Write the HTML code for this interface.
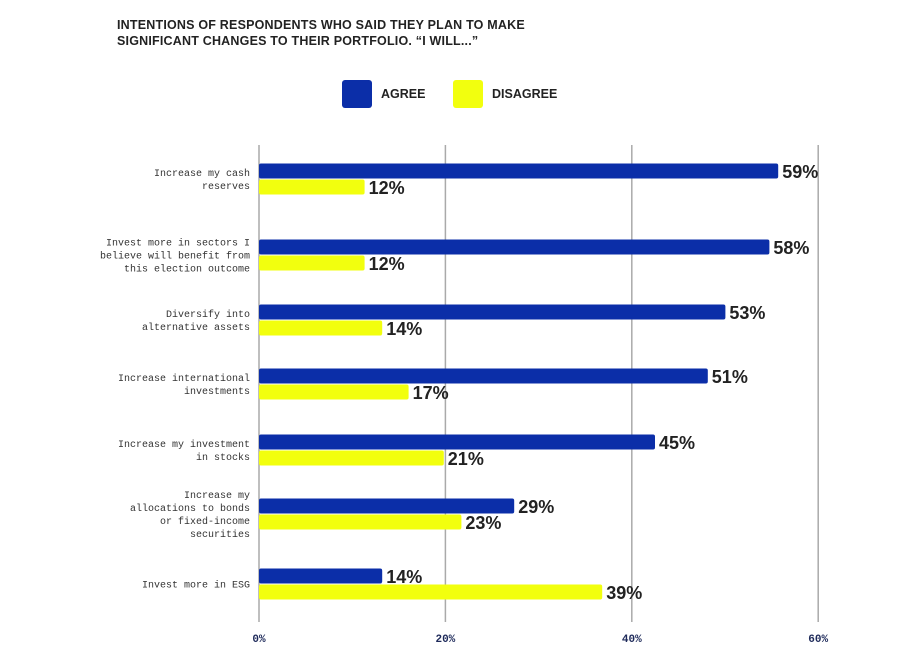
<!DOCTYPE html>
<html><head><meta charset="utf-8">
<style>
body{margin:0;background:#fff;width:909px;height:671px;overflow:hidden;font-family:"Liberation Sans",sans-serif;}
#wrap{position:relative;width:909px;height:671px;}
.title{position:absolute;left:117px;top:17px;font-weight:bold;font-size:12.5px;line-height:16px;color:#222;letter-spacing:0.2px;}
.leg{position:absolute;top:80px;width:30px;height:28px;border-radius:3px;}
.legt{position:absolute;top:87px;font-weight:bold;font-size:12.5px;color:#222;}
</style></head><body>
<div id="wrap">
<div class="title">INTENTIONS OF RESPONDENTS WHO SAID THEY PLAN TO MAKE<br>SIGNIFICANT CHANGES TO THEIR PORTFOLIO. “I WILL...”</div>
<div class="leg" style="left:342px;background:#0b2ea8"></div>
<div class="legt" style="left:381px">AGREE</div>
<div class="leg" style="left:453px;background:#f2ff0e"></div>
<div class="legt" style="left:492px">DISAGREE</div>
<svg id="svg" width="909" height="671" style="position:absolute;left:0;top:0"></svg>
</div>
<script>
const categories=[["Increase my cash","reserves"],["Invest more in sectors I","believe will benefit from","this election outcome"],["Diversify into","alternative assets"],["Increase international","investments"],["Increase my investment","in stocks"],["Increase my","allocations to bonds","or fixed-income","securities"],["Invest more in ESG"]];
const agree=[59,58,53,51,45,29,14];
const disagree=[12,12,14,17,21,23,39];
const ticks=[0,20,40,60];
const tickLabels=["0%","20%","40%","60%"];
const rowCenters=[179,255,320,384,450,514,584];
const NS="http://www.w3.org/2000/svg";
const svg=document.getElementById('svg');
const x0=259;
function xBar(v){return x0+v*8.8;}
function xGrid(v){return x0+v*9.32;}
function mk(t,a){const e=document.createElementNS(NS,t);for(const k in a)e.setAttribute(k,a[k]);svg.appendChild(e);return e;}
ticks.forEach((t,i)=>{
 const l=mk('line',{x1:xGrid(t),x2:xGrid(t),y1:145,y2:622,stroke:'#aaa','stroke-width':1.5});
 
 
 const tx=mk('text',{x:xGrid(t),y:642,'text-anchor':'middle','font-family':'Liberation Mono, monospace','font-weight':'bold','font-size':11,fill:'#1e2a5a'});
 tx.textContent=tickLabels[i];
 
 
});
const bh=15;
categories.forEach((c,i)=>{
 const cy=rowCenters[i];
 const n=c.length;
 c.forEach((line,j)=>{
  const t=mk('text',{x:250,y:cy-(n-1)*6.5+j*13+3.5,'text-anchor':'end','font-family':'Liberation Mono, monospace','font-size':10,fill:'#333'});
  t.textContent=line;
  
  
 });
 [[agree[i],'#0b2ea8',cy-bh-0.5,'bar-agree'],[disagree[i],'#f2ff0e',cy+0.5,'bar-disagree']].forEach(([v,col,y,name])=>{
  const r=mk('rect',{x:x0,y:y,width:xBar(v)-x0,height:bh,fill:col,rx:2});
  
  
  const t=mk('text',{x:xBar(v)+4,y:y+bh/2+7,'font-weight':'bold','font-size':18,fill:'#222','font-family':'Liberation Sans, sans-serif'});
  t.textContent=v+'%';
  
  
 });
});
</script>
</body></html>
